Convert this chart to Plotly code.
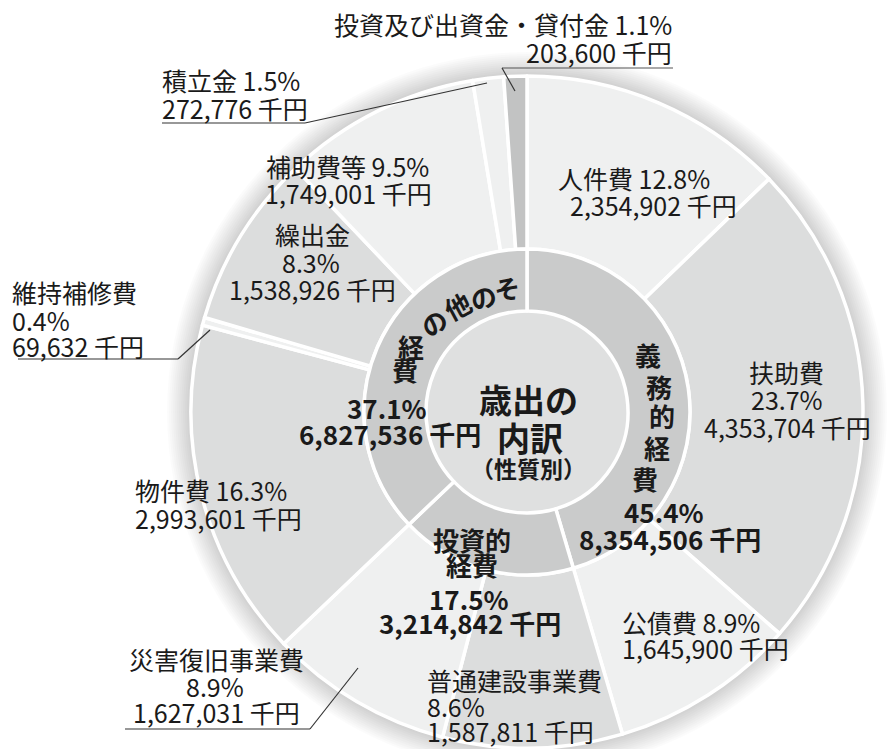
import plotly.graph_objects as go

# ---------------- data ----------------
groups = ["義務的経費", "投資的経費", "その他の経費"]
group_values = [8354506, 3214842, 6827536]
group_pct = [45.4, 17.5, 37.1]

items = ["人件費", "扶助費", "公債費", "普通建設事業費", "災害復旧事業費", "物件費",
         "維持補修費", "繰出金", "補助費等", "積立金", "投資及び出資金・貸付金"]
item_values = [2354902, 4353704, 1645900, 1587811, 1627031, 2993601,
               69632, 1538926, 1749001, 272776, 203600]
item_pct = [12.8, 23.7, 8.9, 8.6, 8.9, 16.3, 0.4, 8.3, 9.5, 1.5, 1.1]

title_lines = ["歳出の", "内訳", "（性質別）"]
unit = "千円"

# ---------------- styles ----------------
W, H = 894, 749
CX, CY = 527, 412
R_OUT, R_MID, R_IN = 336, 163, 101
FONT = "Noto Sans CJK JP"
TXT = "#1a1a1a"
FS = 25
FSB = 26

LIGHT, MID, DARK = "#eff0f0", "#dcdddd", "#c2c3c3"
item_colors = [LIGHT, MID, LIGHT, MID, LIGHT, MID, LIGHT, MID, LIGHT, LIGHT, DARK]
group_colors = ["#cacbcb", "#cacbcb", "#cacbcb"]


def px(x):
    return x / W


def py(y):
    return 1 - y / H


def dom(r):
    return dict(x=[px(CX - r), px(CX + r)], y=[py(CY + r), py(CY - r)])


fig = go.Figure()
fig.add_trace(go.Pie(
    labels=items, values=item_values, sort=False, direction="clockwise", rotation=0,
    hole=R_MID / R_OUT, domain=dom(R_OUT), textinfo="none", hoverinfo="label+value",
    marker=dict(colors=item_colors, line=dict(color="white", width=3.5)),
    showlegend=False,
))
fig.add_trace(go.Pie(
    labels=groups, values=group_values, sort=False, direction="clockwise", rotation=0,
    hole=R_IN / R_MID, domain=dom(R_MID), textinfo="none", hoverinfo="label+value",
    marker=dict(colors=group_colors, line=dict(color="white", width=3.5)),
    showlegend=False,
))

shapes = []
# soft shadow around the outer ring
for k in range(12):
    r = R_OUT + 24 - 2 * k
    shapes.append(dict(type="circle", xref="paper", yref="paper", layer="below",
                       x0=px(CX - r), x1=px(CX + r), y0=py(CY + r), y1=py(CY - r),
                       fillcolor="rgba(0,0,0,0.017)", line=dict(width=0)))
# center disc
shapes.append(dict(type="circle", xref="paper", yref="paper", layer="below",
                   x0=px(CX - R_IN), x1=px(CX + R_IN), y0=py(CY + R_IN), y1=py(CY - R_IN),
                   fillcolor="#dfe0e0", line=dict(width=0)))


def seg(x0, y0, x1, y1, color="#333333", w=1.2):
    shapes.append(dict(type="line", xref="paper", yref="paper",
                       x0=px(x0), y0=py(y0), x1=px(x1), y1=py(y1),
                       line=dict(color=color, width=w)))


# leader lines
seg(502, 68, 673, 68, "#555555")
seg(502, 68, 515, 91)
seg(162, 123, 305, 123)
seg(305, 123, 487, 83)
seg(18, 359, 178, 359)
seg(178, 359, 210, 330)
seg(125, 729, 310, 729)
seg(310, 729, 358, 668)

ann = []


def txt(s, x, y, size=FS, bold=False, anchor="center", angle=0):
    if bold:
        s = "<b>" + s + "</b>"
    ann.append(dict(text=s, x=px(x), y=py(y), xref="paper", yref="paper",
                    xanchor=anchor, yanchor="middle", showarrow=False, textangle=angle,
                    font=dict(family=FONT, size=size, color=TXT)))


def pct(p):
    return f"{p}%"


def money(v):
    return f"{v:,} {unit}"


# outer labels
i = 0  # 人件費
txt(f"{items[i]} {pct(item_pct[i])}", 634, 178)
txt(money(item_values[i]), 653, 205)
i = 1  # 扶助費
txt(items[i], 786, 372)
txt(pct(item_pct[i]), 787, 399)
txt(money(item_values[i]), 787, 427)
i = 2  # 公債費
txt(f"{items[i]} {pct(item_pct[i])}", 620, 622, anchor="left")
txt(money(item_values[i]), 620, 648, anchor="left")
i = 3  # 普通建設事業費
txt(items[i], 425, 680, anchor="left")
txt(pct(item_pct[i]), 425, 706, anchor="left")
txt(money(item_values[i]), 425, 731, anchor="left")
i = 4  # 災害復旧事業費
txt(items[i], 216, 659)
txt(pct(item_pct[i]), 215, 686)
txt(money(item_values[i]), 216, 712)
i = 5  # 物件費
txt(f"{items[i]} {pct(item_pct[i])}", 133, 490, anchor="left")
txt(money(item_values[i]), 133, 518, anchor="left")
i = 6  # 維持補修費
txt(items[i], 10, 292, anchor="left")
txt(pct(item_pct[i]), 10, 320, anchor="left")
txt(money(item_values[i]), 10, 346, anchor="left")
i = 7  # 繰出金
txt(items[i], 312, 234)
txt(pct(item_pct[i]), 311, 262)
txt(money(item_values[i]), 312, 289)
i = 8  # 補助費等
txt(f"{items[i]} {pct(item_pct[i])}", 347, 166)
txt(money(item_values[i]), 348, 193)
i = 9  # 積立金
txt(f"{items[i]} {pct(item_pct[i])}", 160, 80, anchor="left")
txt(money(item_values[i]), 160, 108, anchor="left")
i = 10  # 投資及び出資金・貸付金
txt(f"{items[i]} {pct(item_pct[i])}", 674, 24, anchor="right")
txt(money(item_values[i]), 674, 52, anchor="right")

# inner ring labels
g = groups[0]
for ch, (x, y) in zip(g, [(648, 354), (659, 386), (662, 415), (657, 447), (645, 478)]):
    txt(ch, x, y, size=FSB, bold=True)
txt(pct(group_pct[0]), 664, 511, size=FSB, bold=True)
txt(money(group_values[0]), 670, 538, size=FSB, bold=True)

g = groups[1]
txt(g[:3], 472, 539, size=FSB, bold=True)
txt(g[3:], 472, 564, size=FSB, bold=True)
txt(pct(group_pct[1]), 469, 598, size=FSB, bold=True)
txt(money(group_values[1]), 470, 622, size=FSB, bold=True)

g = groups[2]
arc = [(507, 288, -8), (483, 296, -18), (457, 305, -28), (433, 322, -40)]
for ch, (x, y, a) in zip(g[:4], arc):
    txt(ch, x, y, size=FSB, bold=True, angle=a)
txt(g[4], 411, 346, size=FSB, bold=True)
txt(g[5], 405, 370, size=FSB, bold=True)
txt(pct(group_pct[2]), 387, 407, size=FSB, bold=True)
txt(money(group_values[2]), 390, 433, size=FSB, bold=True)

# center title
txt(title_lines[0], 528, 399, size=33, bold=True)
txt(title_lines[1], 530, 437, size=33, bold=True)
txt(title_lines[2], 528, 468, size=23, bold=True)

fig.update_layout(
    width=W, height=H, margin=dict(l=0, r=0, t=0, b=0),
    paper_bgcolor="white", plot_bgcolor="white",
    shapes=shapes, annotations=ann, showlegend=False,
)
fig.write_html("out.html", config={"displayModeBar": False},
               post_script="document.body.style.margin='0px';")
